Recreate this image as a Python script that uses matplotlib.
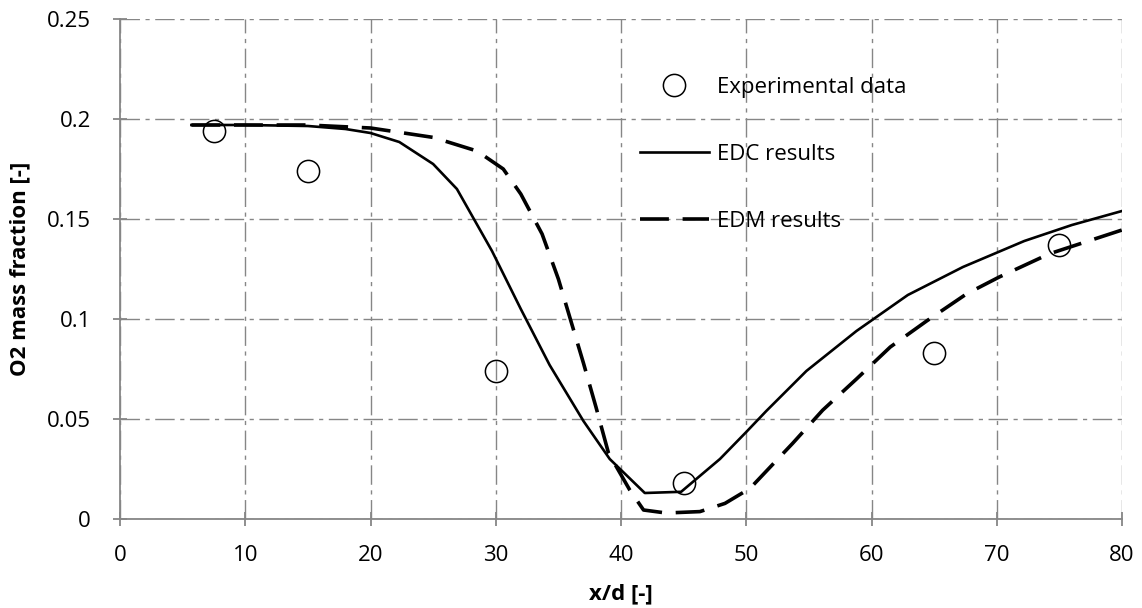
import matplotlib
matplotlib.use("Agg")
import matplotlib.pyplot as plt
from matplotlib.ticker import FixedLocator, FixedFormatter

plt.rcParams['font.family'] = ['Open Sans', 'DejaVu Sans']

# Experimental data
exp_x = [7.5, 15, 30, 45, 65, 75]
exp_y = [0.194, 0.174, 0.074, 0.018, 0.083, 0.137]

# EDC results
edc_x = [5.7, 10, 15, 18, 20, 22.3, 25, 26.9, 29.7, 32, 34.3, 37, 39.1, 41.9, 44.8,
         47.9, 50, 51.6, 54.8, 58.8, 62.9, 67.3, 72.2, 76, 80]
edc_y = [0.197, 0.197, 0.1965, 0.195, 0.193, 0.1885, 0.1775, 0.165, 0.134, 0.105,
         0.077, 0.049, 0.030, 0.013, 0.0136, 0.030, 0.0435, 0.054, 0.074, 0.094,
         0.112, 0.126, 0.139, 0.147, 0.154]

# EDM results
edm_x = [5.7, 10, 15, 20, 25, 28.5, 30.6, 32, 33.7, 35, 36, 37, 38, 39, 40.7, 41.8,
         43.6, 46.3, 48.3, 50.3, 53.7, 56.1, 58.8, 61.5, 64.4, 67.6, 70.2, 74.2, 80]
edm_y = [0.197, 0.197, 0.197, 0.1955, 0.1908, 0.184, 0.175, 0.1625, 0.1425, 0.12,
         0.099, 0.078, 0.056, 0.033, 0.0145, 0.0045, 0.003, 0.0037, 0.0078, 0.0153,
         0.0378, 0.0544, 0.070, 0.086, 0.099, 0.1126, 0.121, 0.1326, 0.1445]

x_ticks = [0, 10, 20, 30, 40, 50, 60, 70, 80]
y_ticks = [0, 0.05, 0.1, 0.15, 0.2, 0.25]
y_tick_labels = ["0", "0.05", "0.1", "0.15", "0.2", "0.25"]

fig = plt.figure(figsize=(11.42, 6.08), dpi=100)
ax = fig.add_axes([120/1142, 1-519/608, 1002/1142, 500/608])

gray = '#868686'
grid_dash = (0, (14, 4, 3, 4))
fs = 16

ax.plot(exp_x, exp_y, linestyle='none', marker='o', markersize=16,
        markerfacecolor='none', markeredgecolor='black', markeredgewidth=1.1,
        label='Experimental data', zorder=4)
ax.plot(edc_x, edc_y, color='black', linewidth=1.9, label='EDC results', zorder=3)
ax.plot(edm_x, edm_y, color='black', linewidth=2.6, linestyle=(0, (8, 3.8)),
        label='EDM results', zorder=3)

ax.set_xlim(0, 80)
ax.set_ylim(0, 0.25)
ax.xaxis.set_major_locator(FixedLocator(x_ticks))
ax.yaxis.set_major_locator(FixedLocator(y_ticks))
ax.yaxis.set_major_formatter(FixedFormatter(y_tick_labels))

ax.grid(True, color=gray, linewidth=1.0, linestyle=grid_dash)
ax.set_axisbelow(True)
for s in ['top', 'right']:
    ax.spines[s].set_visible(False)
for s in ['left', 'bottom']:
    ax.spines[s].set_color(gray)
    ax.spines[s].set_linewidth(1.3)

ax.tick_params(axis='both', colors=gray, labelcolor='black', labelsize=fs,
               direction='inout', length=10, width=1.3)
ax.tick_params(axis='x', pad=14)
ax.tick_params(axis='y', pad=16)

ax.set_xlabel('x/d [-]', fontsize=fs, fontweight='bold', labelpad=12)
ax.set_ylabel('O2 mass fraction [-]', fontsize=fs, fontweight='bold', labelpad=12)

leg = ax.legend(loc='upper left', bbox_to_anchor=(640/1142, 1-77/608),
                bbox_transform=fig.transFigure, frameon=False, fontsize=fs,
                handlelength=3.1, handletextpad=0.35, labelspacing=2.07,
                borderpad=0, borderaxespad=0)

fig.savefig('out.png', dpi=100)
